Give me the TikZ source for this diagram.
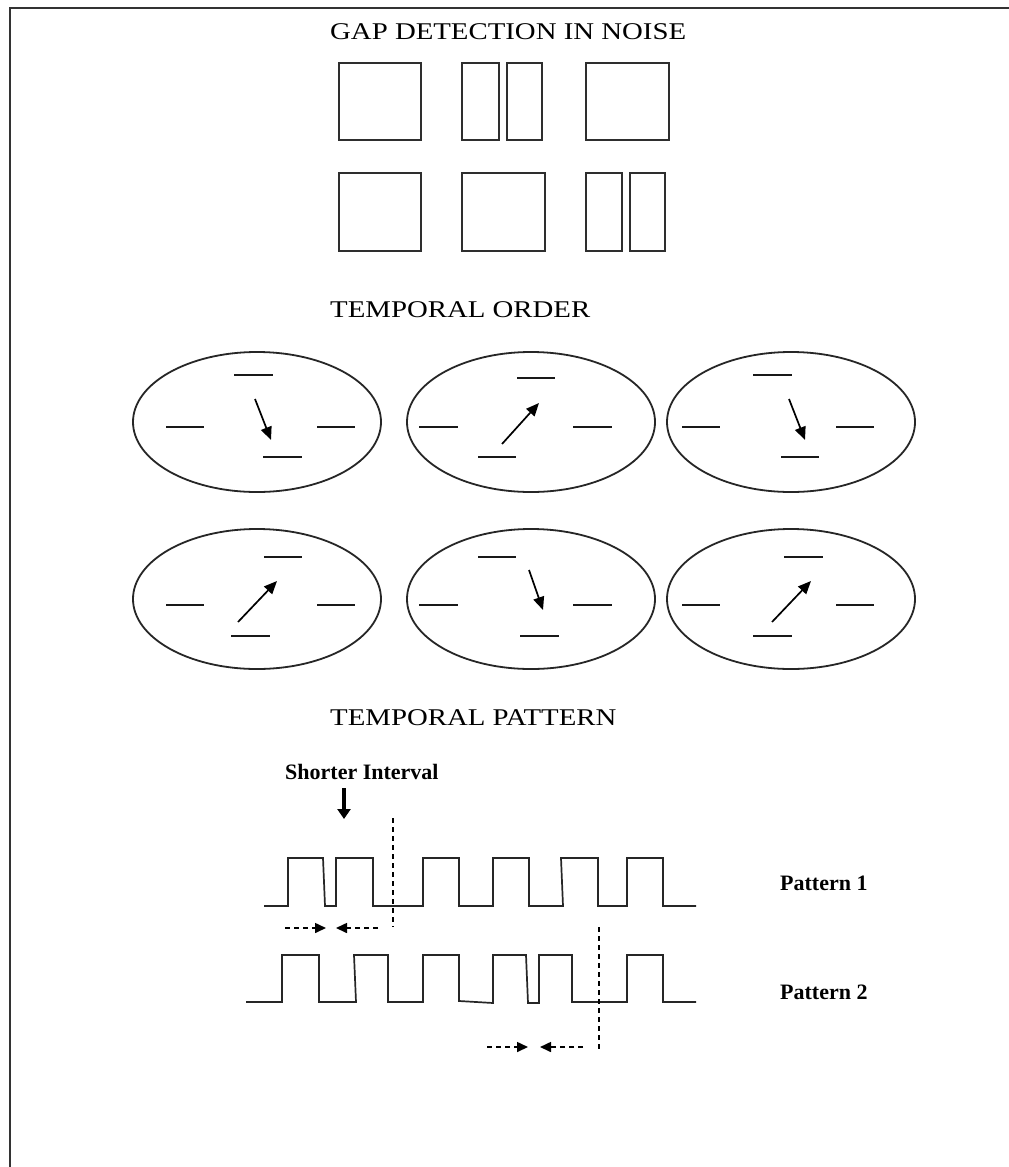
\documentclass[tikz,border=0pt]{standalone}
\usepackage{fontspec}
\setmainfont{Liberation Serif}
\usetikzlibrary{arrows.meta}
\begin{document}
\begin{tikzpicture}[x=1pt,y=-1pt,
  frameline/.style={line width=2.2pt, draw=black!80},
  box/.style={line width=2.3pt, draw=black!82},
  oval/.style={line width=1.8pt, draw=black!85},
  tick/.style={line width=1.8pt, draw=black!90},
  hand/.style={line width=1.7pt, -{Triangle[length=13pt,width=11pt]}},
  wave/.style={line width=1.7pt, draw=black!85, line join=miter},
  guide/.style={line width=1.4pt, dash pattern=on 5pt off 4pt},
  gaparrow/.style={line width=1.6pt, dash pattern=on 5pt off 4pt, -{Triangle[length=11pt,width=10pt]}},
  heading/.style={font=\fontsize{24}{28}\selectfont, anchor=west, inner sep=0pt},
  plabel/.style={font=\bfseries\fontsize{22}{26}\selectfont, anchor=west, inner sep=0pt}]

% page and frame
\fill[white] (0,0) rectangle (1009,1167);
\useasboundingbox (0,0) rectangle (1009,1167);
\draw[frameline] (1009,8) -- (10,8) -- (10,1167);

% ---------- gap detection in noise ----------
\node[heading] (gaptitle) at (330,32) {\scalebox{1.2}[1]{GAP DETECTION IN NOISE}};
% first row
\draw[box] (339,63) rectangle (421,140);
\draw[box] (462,63) rectangle (499,140);
\draw[box] (507,63) rectangle (542,140);
\draw[box] (586,63) rectangle (669,140);
% second row
\draw[box] (339,173) rectangle (421,251);
\draw[box] (462,173) rectangle (545,251);
\draw[box] (586,173) rectangle (622,251);
\draw[box] (630,173) rectangle (665,251);

% ---------- temporal order ----------
\node[heading] (ordertitle) at (330,310) {\scalebox{1.2}[1]{TEMPORAL ORDER}};

% row 1, dial 1
\draw[oval] (257,422) ellipse [x radius=124pt, y radius=70pt];
\draw[tick] (234,375) -- (273,375);
\draw[tick] (166,427) -- (204,427);
\draw[tick] (317,427) -- (355,427);
\draw[tick] (263,457) -- (302,457);
\draw[hand] (255,399) -- (271,440);
% row 1, dial 2
\draw[oval] (531,422) ellipse [x radius=124pt, y radius=70pt];
\draw[tick] (517,378) -- (555,378);
\draw[tick] (419,427) -- (458,427);
\draw[tick] (573,427) -- (612,427);
\draw[tick] (478,457) -- (516,457);
\draw[hand] (502,444) -- (539,403);
% row 1, dial 3
\draw[oval] (791,422) ellipse [x radius=124pt, y radius=70pt];
\draw[tick] (753,375) -- (792,375);
\draw[tick] (682,427) -- (720,427);
\draw[tick] (836,427) -- (874,427);
\draw[tick] (781,457) -- (819,457);
\draw[hand] (789,399) -- (805,440);

% row 2, dial 4
\draw[oval] (257,599) ellipse [x radius=124pt, y radius=70pt];
\draw[tick] (264,557) -- (302,557);
\draw[tick] (166,605) -- (204,605);
\draw[tick] (317,605) -- (355,605);
\draw[tick] (231,636) -- (270,636);
\draw[hand] (238,622) -- (277,581);
% row 2, dial 5
\draw[oval] (531,599) ellipse [x radius=124pt, y radius=70pt];
\draw[tick] (478,557) -- (516,557);
\draw[tick] (419,605) -- (458,605);
\draw[tick] (573,605) -- (612,605);
\draw[tick] (520,636) -- (559,636);
\draw[hand] (529,570) -- (543,610);
% row 2, dial 6
\draw[oval] (791,599) ellipse [x radius=124pt, y radius=70pt];
\draw[tick] (784,557) -- (823,557);
\draw[tick] (682,605) -- (720,605);
\draw[tick] (836,605) -- (874,605);
\draw[tick] (753,636) -- (792,636);
\draw[hand] (772,622) -- (811,581);

% ---------- temporal pattern ----------
\node[heading] (patterntitle) at (330,718) {\scalebox{1.2}[1]{TEMPORAL PATTERN}};

\node[plabel] (shorter) at (285,772) {Shorter Interval};
\coordinate (shortertip) at (344,819);
\draw[line width=4.5pt, -{Triangle[length=10pt,width=13pt]}] (344,788) -- (shortertip);

% pattern 1
\draw[wave] (264,906) -- (288,906) -- (288,858) -- (323,858) -- (325,906)
  -- (336,906) -- (336,858) -- (373,858) -- (373,906)
  -- (423,906) -- (423,858) -- (459,858) -- (459,906)
  -- (493,906) -- (493,858) -- (529,858) -- (529,906)
  -- (563,906) -- (561,858) -- (598,858) -- (598,906)
  -- (627,906) -- (627,858) -- (663,858) -- (663,906) -- (696,906);
\node[plabel] (pat1) at (780,883) {Pattern 1};
\draw[guide] (393,818) -- (393,927);
\draw[gaparrow] (285,928) -- (326,928);
\draw[gaparrow] (378,928) -- (336,928);

% pattern 2
\draw[wave] (246,1002) -- (282,1002) -- (282,955) -- (319,955) -- (319,1002)
  -- (356,1002) -- (354,955) -- (388,955) -- (388,1002)
  -- (423,1002) -- (423,955) -- (459,955) -- (459,1001)
  -- (493,1003) -- (493,955) -- (526,955) -- (528,1003)
  -- (539,1003) -- (539,955) -- (572,955) -- (572,1002)
  -- (627,1002) -- (627,955) -- (663,955) -- (663,1002) -- (696,1002);
\node[plabel] (pat2) at (780,992) {Pattern 2};
\draw[guide] (599,927) -- (599,1050);
\draw[gaparrow] (487,1047) -- (528,1047);
\draw[gaparrow] (583,1047) -- (540,1047);
\end{tikzpicture}
\end{document}
